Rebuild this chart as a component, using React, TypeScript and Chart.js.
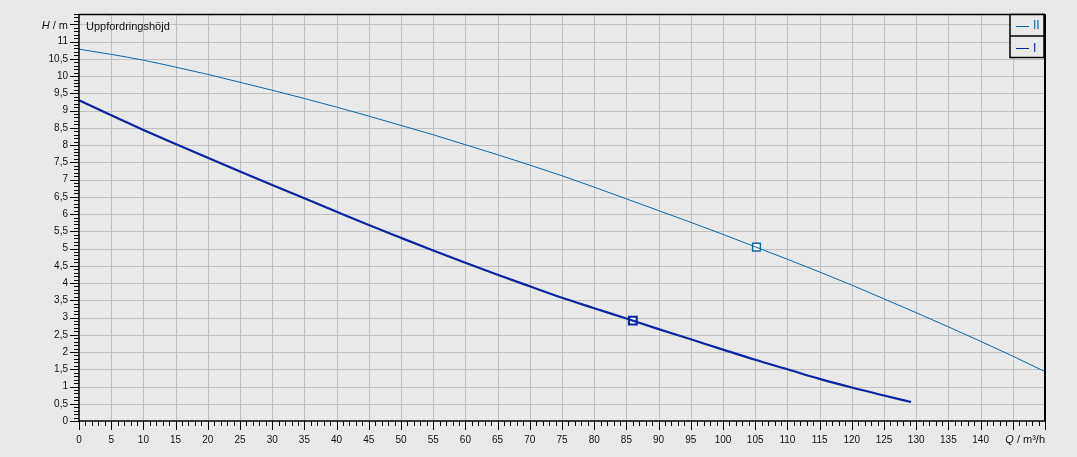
import React, { useEffect, useRef } from "react";
import { Chart, registerables } from "chart.js";

Chart.register(...registerables);

// ---- data ----
const flowII = [0, 5, 10, 15, 20, 25, 30, 35, 40, 45, 50, 55, 60, 65, 70, 75, 80, 85, 90, 95, 100, 105, 110, 115, 120, 125, 130, 135, 140, 145, 150];
const headII = [10.78, 10.63, 10.46, 10.26, 10.05, 9.82, 9.59, 9.35, 9.1, 8.84, 8.57, 8.3, 8.01, 7.72, 7.42, 7.11, 6.78, 6.44, 6.1, 5.76, 5.41, 5.05, 4.69, 4.32, 3.94, 3.54, 3.14, 2.73, 2.31, 1.88, 1.43];
const flowI = [0, 5, 10, 15, 20, 25, 30, 35, 40, 45, 50, 55, 60, 65, 70, 75, 80, 85, 90, 95, 100, 105, 110, 115, 120, 125, 129.2];
const headI = [9.3, 8.865, 8.44, 8.03, 7.63, 7.235, 6.845, 6.455, 6.065, 5.68, 5.31, 4.945, 4.59, 4.24, 3.905, 3.575, 3.27, 2.97, 2.665, 2.37, 2.07, 1.775, 1.5, 1.22, 0.97, 0.74, 0.55];
const dutyFlowII = [105.2];
const dutyHeadII = [5.04];
const dutyFlowI = [86];
const dutyHeadI = [2.91];
const seriesNames = ["II", "I"];
const seriesColors = ["#0b67a8", "#0a24a2"];
const xMin = 0;
const xMax = 150;
const xMajorStep = 5;
const xMinorStep = 1;
const xLastLabel = 140;
const yMin = 0;
const yMax = 11.8;
const yMajorStep = 0.5;
const yMinorStep = 0.1;
const yLastLabel = 11;
const yTitle = ["H", " / m"];
const xTitle = ["Q", " / m³/h"];
const chartTitle = "Uppfordringshöjd";

const FONT = '"Liberation Sans", Arial, sans-serif';
const BG = "#e9e9e9";
const GRID = "#c0c0c0";

const isMult = (v: number, step: number) => Math.abs(v / step - Math.round(v / step)) < 1e-6;

const toPts = (xs: number[], ys: number[]) => xs.map((x, i) => ({ x, y: ys[i] }));

const decorPlugin = {
  id: "decor",
  beforeDraw(chart: any) {
    const { ctx, width, height } = chart;
    ctx.save();
    ctx.fillStyle = BG;
    ctx.fillRect(0, 0, width, height);
    ctx.restore();
  },
  beforeDatasetsDraw(chart: any) {
    const { ctx, chartArea } = chart;
    const xs = chart.scales.x;
    const ys = chart.scales.y;
    const { left, right, top, bottom } = chartArea;
    ctx.save();
    ctx.strokeStyle = GRID;
    ctx.lineWidth = 1;
    ctx.beginPath();
    const nx = Math.round((xMax - xMin) / xMajorStep);
    for (let i = 1; i < nx; i++) {
      const px = Math.round(xs.getPixelForValue(xMin + i * xMajorStep)) + 0.5;
      ctx.moveTo(px, top);
      ctx.lineTo(px, bottom);
    }
    const ny = Math.floor((yMax - yMin) / yMajorStep + 1e-9);
    for (let i = 1; i <= ny; i++) {
      const py = Math.round(ys.getPixelForValue(yMin + i * yMajorStep)) + 0.5;
      ctx.moveTo(left, py);
      ctx.lineTo(right, py);
    }
    ctx.stroke();
    ctx.restore();
  },
  afterDraw(chart: any) {
    const { ctx, chartArea } = chart;
    const xs = chart.scales.x;
    const ys = chart.scales.y;
    const { left, right, top, bottom } = chartArea;
    ctx.save();
    // tick marks
    ctx.strokeStyle = "#000";
    ctx.lineWidth = 1;
    ctx.beginPath();
    const nxm = Math.round((xMax - xMin) / xMinorStep);
    for (let i = 0; i <= nxm; i++) {
      const q = xMin + i * xMinorStep;
      const len = isMult(q, xMajorStep) ? 9 : 5;
      const px = Math.round(xs.getPixelForValue(q)) + 0.5;
      ctx.moveTo(px, bottom);
      ctx.lineTo(px, bottom + len);
    }
    const nym = Math.round((yMax - yMin) / yMinorStep);
    for (let i = 0; i <= nym; i++) {
      const h = yMin + i * yMinorStep;
      const len = isMult(h, yMajorStep) ? 9 : 5;
      const py = Math.round(ys.getPixelForValue(h)) + 0.5;
      ctx.moveTo(left - len, py);
      ctx.lineTo(left, py);
    }
    ctx.stroke();
    // frame
    ctx.beginPath();
    ctx.lineWidth = 1.5;
    ctx.moveTo(left, top + 0.5);
    ctx.lineTo(right, top + 0.5);
    ctx.moveTo(left, top);
    ctx.lineTo(left, bottom);
    ctx.lineTo(right, bottom);
    ctx.stroke();
    ctx.beginPath();
    ctx.lineWidth = 2;
    ctx.moveTo(right, top);
    ctx.lineTo(right, bottom);
    ctx.stroke();

    // axis titles
    ctx.fillStyle = "#111";
    ctx.textBaseline = "middle";
    ctx.textAlign = "left";
    const yT = ys.getPixelForValue(11.5) + 1.5;
    ctx.font = `11px ${FONT}`;
    const w1 = ctx.measureText(yTitle[1]).width;
    ctx.font = `italic 11px ${FONT}`;
    const w0 = ctx.measureText(yTitle[0]).width;
    const yTitleRight = left - 11;
    ctx.fillText(yTitle[0], yTitleRight - w1 - w0, yT);
    ctx.font = `11px ${FONT}`;
    ctx.fillText(yTitle[1], yTitleRight - w1, yT);

    const xT = 440;
    ctx.font = `11px ${FONT}`;
    const v1 = ctx.measureText(xTitle[1]).width;
    ctx.font = `italic 11px ${FONT}`;
    const v0 = ctx.measureText(xTitle[0]).width;
    ctx.fillText(xTitle[0], right - v1 - v0, xT);
    ctx.font = `11px ${FONT}`;
    ctx.fillText(xTitle[1], right - v1, xT);

    // inner title
    ctx.font = `11px ${FONT}`;
    ctx.fillText(chartTitle, left + 7, top + 13);

    // legend box
    const lx0 = right - 35;
    const lx1 = right - 1;
    const ly0 = top;
    const ly1 = top + 43;
    const lmid = top + 22;
    ctx.fillStyle = BG;
    ctx.fillRect(lx0, ly0, lx1 - lx0, ly1 - ly0);
    ctx.strokeStyle = "#000";
    ctx.lineWidth = 1.5;
    ctx.strokeRect(lx0, ly0 + 0.5, lx1 - lx0, ly1 - ly0);
    ctx.beginPath();
    ctx.moveTo(lx0, lmid);
    ctx.lineTo(lx1, lmid);
    ctx.stroke();
    const rows = [top + 11.5, top + 34];
    seriesNames.forEach((name, i) => {
      ctx.strokeStyle = seriesColors[i];
      ctx.lineWidth = 1;
      ctx.beginPath();
      ctx.moveTo(lx0 + 6, Math.round(rows[i]) + 0.5);
      ctx.lineTo(lx0 + 19, Math.round(rows[i]) + 0.5);
      ctx.stroke();
      ctx.fillStyle = seriesColors[i];
      ctx.font = `12px ${FONT}`;
      ctx.textAlign = "left";
      ctx.fillText(name, lx0 + 23, rows[i] + 0.5);
    });
    ctx.restore();
  },
};

export default function App() {
  const ref = useRef<HTMLCanvasElement | null>(null);
  useEffect(() => {
    document.body.style.margin = "0";
    const canvas = ref.current!;
    const chart = new Chart(canvas, {
      type: "line",
      data: {
        datasets: [
          {
            label: seriesNames[0],
            data: toPts(flowII, headII),
            borderColor: seriesColors[0],
            borderWidth: 1,
            pointRadius: 0,
            cubicInterpolationMode: "monotone",
            fill: false,
          },
          {
            label: seriesNames[1],
            data: toPts(flowI, headI),
            borderColor: seriesColors[1],
            borderWidth: 2.2,
            pointRadius: 0,
            cubicInterpolationMode: "monotone",
            fill: false,
          },
          {
            label: "duty II",
            data: toPts(dutyFlowII, dutyHeadII),
            showLine: false,
            pointStyle: "rect",
            pointRadius: 5.5,
            pointBorderWidth: 1.4,
            pointBorderColor: seriesColors[0],
            pointBackgroundColor: "#f6f6f6",
          },
          {
            label: "duty I",
            data: toPts(dutyFlowI, dutyHeadI),
            showLine: false,
            pointStyle: "rect",
            pointRadius: 5.5,
            pointBorderWidth: 2.2,
            pointBorderColor: seriesColors[1],
            pointBackgroundColor: "#f6f6f6",
          },
        ],
      },
      options: {
        responsive: false,
        animation: false,
        events: [],
        layout: { padding: { left: 0, top: 14, right: 32, bottom: 0 } },
        plugins: { legend: { display: false }, tooltip: { enabled: false }, title: { display: false } },
        scales: {
          x: {
            type: "linear",
            min: xMin,
            max: xMax,
            afterFit: (s: any) => {
              s.height = 36;
            },
            ticks: {
              stepSize: xMajorStep,
              autoSkip: false,
              maxTicksLimit: 500,
              maxRotation: 0,
              padding: 4,
              color: "#111",
              font: { family: FONT, size: 10 },
              callback: (v: any) => {
                const n = Number(v);
                return n <= xLastLabel ? String(Math.round(n)) : "";
              },
            },
            grid: {
              drawTicks: true,
              tickLength: 9,
              color: "rgba(0,0,0,0)",
              tickColor: "rgba(0,0,0,0)",
            },
            border: { display: false },
          },
          y: {
            type: "linear",
            min: yMin,
            max: yMax,
            afterFit: (s: any) => {
              s.width = 79;
            },
            ticks: {
              stepSize: yMajorStep,
              autoSkip: false,
              maxTicksLimit: 500,
              padding: 2,
              color: "#111",
              font: { family: FONT, size: 10 },
              callback: (v: any) => {
                const n = Math.round(Number(v) * 10) / 10;
                return n <= yLastLabel ? String(n).replace(".", ",") : "";
              },
            },
            grid: {
              drawTicks: true,
              tickLength: 9,
              color: "rgba(0,0,0,0)",
              tickColor: "rgba(0,0,0,0)",
            },
            border: { display: false },
          },
        },
      },
      plugins: [decorPlugin],
    });
    return () => chart.destroy();
  }, []);
  return (
    <div style={{ width: 1077, height: 457 }}>
      <canvas ref={ref} width={1077} height={457} style={{ display: "block" }} />
    </div>
  );
}
